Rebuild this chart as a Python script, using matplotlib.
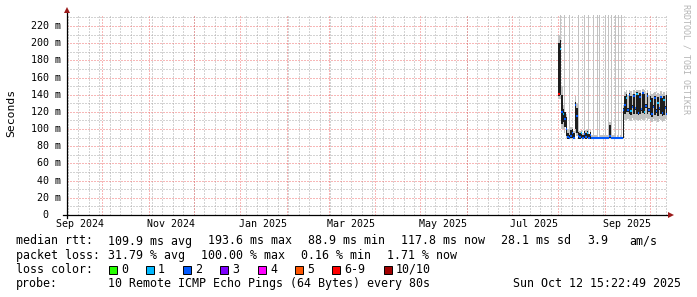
import matplotlib
matplotlib.use('Agg')
import matplotlib.pyplot as plt
import matplotlib.transforms as mtransforms
from matplotlib.lines import Line2D
from matplotlib.patches import Rectangle
import numpy as np
import pandas as pd

# graph window: 400 days ending at the timestamp
t_end = pd.Timestamp('2025-10-12 15:22:49')
t_start = t_end - pd.Timedelta(days=400)

# one value per day, Aug 1 2025 .. Oct 12 2025 (ms)
day0 = '2025-08-01'
median = [141, 193.6, 120, 118, 112, 100, 91, 90, 92, 95,
          90, 128, 115, 92, 91, 95, 90, 94, 91, 96,
          90, 93, 90, 89.5, 89.5, 89.5, 90, 89.5, 89.5, 89.5,
          89.5, 89.5, 90, 89.5, 92, 90, 89.5, 89.5, 89.5, 89.5,
          89.5, 89.5, 89.5, 122, 128, 136, 122, 140, 121, 126,
          138, 124, 141, 119, 137, 123, 142, 120, 127, 139,
          122, 133, 118, 126, 136, 121, 130, 124, 137, 119,
          134, 125, 118]
# loss class index into loss_colors
loss = [6, 1, 2, 1, 2, 2, 2, 2, 2, 2,
        2, 2, 2, 2, 2, 1, 2, 2, 2, 1,
        2, 2, 2, 2, 2, 2, 2, 2, 2, 2,
        2, 2, 2, 2, 2, 2, 2, 2, 2, 2,
        2, 2, 2, 2, 2, 1, 2, 2, 1, 2,
        2, 2, 1, 2, 2, 2, 2, 1, 2, 2,
        2, 1, 2, 2, 2, 2, 1, 2, 2, 2,
        1, 2, 2]
# dense (dark) smoke range
dark_lo = [138, 140, 106, 108, 103, 92, 89, 89, 90, 90,
           89, 100, 95, 89, 89, 90, 89, 90, 89, 90,
           89, 89, 89, 89, 89, 89, 89, 89, 89, 89,
           89, 89, 89, 89, 90, 89, 89, 89, 89, 89,
           89, 89, 89, 90, 118, 120, 120, 118, 116, 124,
           117, 122, 118, 116, 117, 121, 119, 117, 125, 118,
           120, 116, 114, 124, 116, 119, 115, 122, 117, 115,
           116, 123, 116]
dark_hi = [200, 204, 140, 123, 120, 114, 96, 93, 99, 100,
           95, 132, 125, 97, 95, 97, 93, 98, 96, 98,
           94, 97, 91, 91, 91, 91, 91, 91, 91, 91,
           91, 91, 91, 91, 105, 91, 91, 91, 91, 91,
           91, 91, 91, 125, 138, 141, 124, 142, 139, 128,
           141, 126, 143, 140, 142, 125, 143, 141, 129, 142,
           124, 139, 136, 128, 138, 123, 137, 126, 139, 136,
           139, 127, 140]
# light smoke range (tops above the chart = full height streaks)
grey_lo = [135, 135, 100, 100, 96, 90, 88, 88, 89, 89,
           88, 95, 92, 88, 88, 89, 88, 89, 88, 89,
           88, 88, 88, 88, 88, 88, 88, 88, 88, 88,
           88, 88, 88, 88, 89, 88, 88, 88, 88, 88,
           88, 88, 88, 89, 110, 111, 112, 110, 109, 113,
           110, 112, 110, 109, 110, 112, 111, 110, 113, 110,
           112, 109, 108, 112, 109, 111, 108, 112, 110, 108,
           109, 112, 110]
grey_hi = [210, 260, 150, 128, 260, 118, 100, 260, 102, 103,
           98, 138, 130, 260, 98, 99, 96, 260, 99, 100,
           260, 99, 93, 260, 93, 93, 260, 260, 93, 93,
           93, 260, 93, 260, 108, 260, 93, 93, 260, 93,
           260, 93, 260, 128, 143, 145, 140, 146, 144, 141,
           145, 140, 146, 145, 146, 141, 147, 145, 142, 146,
           140, 144, 141, 142, 143, 139, 142, 141, 144, 141,
           143, 140, 144]

loss_labels = ['0', '1', '2', '3', '4', '5', '6-9', '10/10']
loss_colors = ['#26ff00', '#00b8ff', '#0059ff', '#7e00ff',
               '#ff00ff', '#ff5500', '#ff0000', '#a10000']

W, H = 697, 297
def fx(px):
    return px / W
def fy(py):
    return 1 - py / H

mono = 'DejaVu Sans Mono'
fig = plt.figure(figsize=(W / 100, H / 100), dpi=100)
fig.patch.set_facecolor('white')
ax = fig.add_axes([fx(67), fy(215), 600 / W, 200 / H])
ax.set_xlim(t_start, t_end)
ax.set_ylim(0, 232.8)
for s in ax.spines.values():
    s.set_visible(False)

# grid (rrdtool style dotted lines)
minor_c = '#a8a8a8'
major_c = '#f07070'
dot = (0, (1, 2))
gkw = dict(lw=0.72, ls=dot)
for v in range(10, 240, 10):
    if v % 20:
        ax.axhline(v, color=minor_c, zorder=0, **gkw)
for d in pd.date_range('2024-09-01', t_end, freq='W-SUN'):
    if d > t_start:
        ax.axvline(d, color=minor_c, zorder=0, **gkw)
for v in range(20, 240, 20):
    ax.axhline(v, color=major_c, zorder=0.5, **gkw)
for d in pd.date_range('2024-10-01', t_end, freq='MS'):
    ax.axvline(d, color=major_c, zorder=0.5, **gkw)

# smoke and median
days = pd.date_range(day0, periods=len(median), freq='D')
grey_lo = np.array(grey_lo)
grey_hi = np.array(grey_hi)
gw = np.where(grey_hi > 232.8, 0.67, 1.0)
ax.bar(days, grey_hi - grey_lo, bottom=grey_lo, width=gw, align='edge',
       color='#c2c2c2', linewidth=0, antialiased=False, zorder=1)
ax.bar(days, np.array(dark_hi) - np.array(dark_lo), bottom=dark_lo, width=1.0,
       align='edge', color='#1e1e1e', linewidth=0, antialiased=False, zorder=2)
ax.hlines(median, days, days + pd.Timedelta(days=1),
          colors=[loss_colors[k] for k in loss], lw=1.5, zorder=3)

# tick labels
ax.tick_params(length=0)
ax.set_yticks([])
mids = pd.date_range('2024-09-01', '2025-09-01', freq='2MS') + pd.Timedelta(days=15)
ax.set_xticks(mids)
ax.set_xticklabels([(m - pd.Timedelta(days=15)).strftime('%b %Y') for m in mids],
                   fontfamily=mono, fontsize=7.2)
ax.tick_params(axis='x', pad=3.2)
ytr = mtransforms.blended_transform_factory(fig.transFigure, ax.transData)
for v in range(0, 240, 20):
    lab = '0' if v == 0 else '%d m' % v
    xpos = fx(48) if v == 0 else fx(60.5)
    ax.text(xpos, v, lab, transform=ytr, ha='right', va='center',
            fontfamily=mono, fontsize=7.2)

# axes lines with arrows
arrow_c = '#9a1a1a'
fig.add_artist(Line2D([fx(67), fx(67)], [fy(218), fy(11)], color='black', lw=0.9))
fig.add_artist(Line2D([fx(63), fx(669)], [fy(215), fy(215)], color='black', lw=0.9))
fig.add_artist(Line2D([fx(67)], [fy(10)], marker='^', ms=4, color=arrow_c, mew=0))
fig.add_artist(Line2D([fx(671)], [fy(215)], marker='>', ms=4, color=arrow_c, mew=0))

fig.text(fx(11), fy(113), 'Seconds', rotation=90, ha='center', va='center',
         fontfamily=mono, fontsize=8.2)
fig.text(fx(686), fy(4), 'RRDTOOL / TOBI OETIKER', rotation=-90, ha='center',
         va='top', fontfamily=mono, fontsize=6, color='#b4b4b4')

# legend rows
fs = 8.4
row1 = [(16, 'median rtt:'), (108, '109.9 ms avg'), (208, '193.6 ms max'),
        (308, '88.9 ms min'), (401, '117.8 ms now'), (501, '28.1 ms sd'),
        (587, '3.9'), (629, 'am/s')]
row2 = [(16, 'packet loss:'), (108, '31.79 % avg'), (201, '100.00 % max'),
        (301, '0.16 % min'), (387, '1.71 % now')]
for px, s in row1:
    fig.text(fx(px), fy(241), s, ha='left', va='center', fontfamily=mono, fontsize=fs)
for px, s in row2:
    fig.text(fx(px), fy(255.5), s, ha='left', va='center', fontfamily=mono, fontsize=fs)
fig.text(fx(16), fy(269.5), 'loss color:', ha='left', va='center', fontfamily=mono, fontsize=fs)
box_x = [109, 146, 183, 220, 258, 295, 332, 384]
for bx, lab, col in zip(box_x, loss_labels, loss_colors):
    fig.add_artist(Rectangle((fx(bx), fy(273.5)), 8 / W, 8 / H, transform=fig.transFigure,
                             facecolor=col, edgecolor='black', lw=0.7))
    fig.text(fx(bx + 12), fy(269.5), lab, ha='left', va='center', fontfamily=mono, fontsize=fs)
fig.text(fx(16), fy(283.5), 'probe:', ha='left', va='center', fontfamily=mono, fontsize=fs)
fig.text(fx(108), fy(283.5), '10 Remote ICMP Echo Pings (64 Bytes) every 80s',
         ha='left', va='center', fontfamily=mono, fontsize=fs)
fig.text(fx(681), fy(283.5), 'Sun Oct 12 15:22:49 2025', ha='right', va='center',
         fontfamily=mono, fontsize=fs)

fig.savefig('out.png', dpi=100, facecolor='white')
